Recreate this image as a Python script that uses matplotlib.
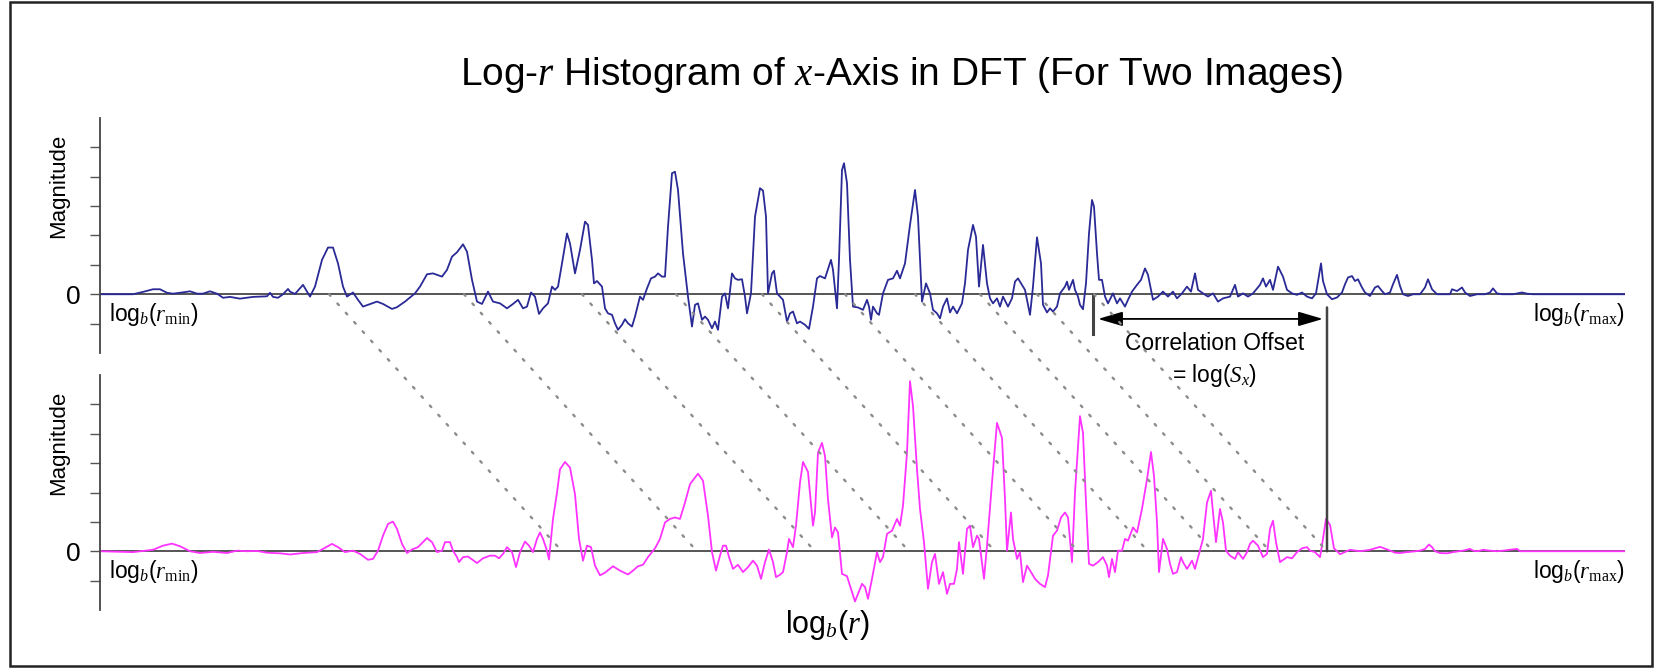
import matplotlib
matplotlib.use("Agg")
import matplotlib.pyplot as plt
from matplotlib.patches import ConnectionPatch, Rectangle

plt.rcParams['font.family'] = ['Liberation Sans', 'DejaVu Sans']
plt.rcParams['mathtext.fontset'] = 'custom'
plt.rcParams['mathtext.rm'] = 'Liberation Serif'
plt.rcParams['mathtext.it'] = 'Liberation Serif:italic'

# log_b(r) bins (0 = r_min, 1525 = r_max) and magnitudes
top_x = [0, 33, 43, 53, 60, 67, 73, 82, 90, 97, 103, 110, 117, 123, 130, 140, 153, 167, 170, 173, 178, 183, 188,
         190, 195, 203, 210, 215, 222, 228, 233, 238, 243, 247, 253, 258, 263, 277, 283, 292, 297, 305, 315, 320,
         327, 333, 342, 347, 352, 357, 363, 367, 372, 377, 382, 388, 393, 400, 407, 413, 418, 423, 427, 431, 435,
         439, 443, 448, 452, 455, 458, 462, 467, 470, 475, 480, 485, 488, 492, 494, 497, 502, 505, 508, 512, 515,
         518, 522, 525, 528, 532, 535, 540, 543, 547, 551, 555, 558, 562, 565, 568, 572, 575, 578, 583, 588, 592,
         595, 598, 602, 605, 608, 612, 615, 618, 622, 625, 628, 632, 635, 638, 642, 645, 647, 651, 655, 660, 663,
         666, 668, 672, 674, 677, 680, 683, 687, 690, 693, 697, 700,
         705, 709, 713, 717, 720, 725, 731, 733, 737, 739, 742, 744, 747, 750, 753, 758, 763, 767, 769, 771, 773,
         777, 779, 783, 788, 793, 797, 800, 805, 810, 815, 818, 822, 826, 830, 833, 837, 840, 843, 847, 850, 853,
         857, 862, 865, 868, 873, 876, 879, 883, 887, 890, 893, 897, 900, 903, 908, 912, 915, 918, 922, 925, 930,
         933, 937, 941, 943, 947, 950, 953, 957, 960, 965, 967, 969, 973, 975, 978, 980, 983, 986, 989, 992, 994,
         997, 999, 1002, 1005, 1008, 1013, 1017, 1020, 1025, 1028, 1032, 1037, 1041, 1045, 1048, 1053, 1058, 1063,
         1068, 1073, 1077, 1082, 1087, 1091, 1095, 1098, 1103, 1108, 1113, 1118, 1123, 1130, 1135, 1138, 1143,
         1148, 1153, 1160, 1163, 1166, 1170, 1173, 1178, 1183, 1187, 1192, 1197, 1202, 1207, 1212, 1216, 1221,
         1223, 1227, 1232, 1237, 1242, 1245, 1248, 1252, 1255, 1258, 1262, 1265, 1270, 1275, 1278, 1282, 1285,
         1290, 1293, 1297, 1300, 1303, 1308, 1313, 1320, 1325, 1328, 1332, 1337, 1343, 1350, 1352, 1357, 1362,
         1365, 1370, 1377, 1385, 1390, 1393, 1397, 1402, 1413, 1422, 1427, 1433, 1525]
top_y = [0.0, 0.0, 0.08, 0.17, 0.17, 0.05, 0.02, 0.06, 0.10, 0.02, 0.02, 0.10, 0.02, -0.12, -0.09, -0.15, -0.09,
         -0.07, 0.05, -0.09, -0.12, 0.0, 0.18,
         0.09, 0.01, 0.32, -0.08, 0.26, 1.17, 1.59, 1.59, 1.05, 0.26, -0.08, 0.06, -0.19, -0.42, -0.25, -0.33,
         -0.50, -0.44, -0.25, 0.03, 0.26, 0.68, 0.71, 0.60, 0.83, 1.28, 1.43, 1.70, 1.45, 0.49, -0.25, -0.33,
         0.09, -0.25, -0.31, -0.48, -0.33, -0.19, -0.48, -0.42, 0.06, -0.08, -0.67, -0.48, -0.31, 0.26, 0.15,
         0.26, 1.05, 2.07, 1.73, 0.71, 1.51, 2.47, 2.36, 1.17, 0.37, 0.45, 0.26, -0.48, -0.65, -0.70, -0.99,
         -1.21, -1.04, -0.85, -0.99, -1.10, -0.76, -0.08, -0.19, 0.20, 0.54, 0.60, 0.71, 0.60, 0.60, 2.30, 4.12,
         4.17, 3.55, 1.39, -0.08, -1.10, -0.36, -0.31, -0.87, -0.76, -0.87, -1.16, -0.93, -1.21, -0.08, 0.03,
         -0.48, 0.71, 0.54, 0.49, 0.51, -0.08, -0.65, 0.03, 2.64, 3.61, 3.53, 2.64, 0.03, 0.71, 0.80, 0.03,
         -0.08, -0.19, -0.93, -0.65, -0.59, -0.99, -0.93,
         -1.04, -1.18, -0.42, 0.54, 0.62, 0.54, 1.17, 0.83, -0.48, 1.17, 4.23, 4.46, 3.78, 1.17, -0.42, -0.45,
         -0.53, -0.19, -0.42, -0.87, -0.42, -0.65, -0.70, 0.03, 0.49, 0.54, 0.80, 0.54, 1.05, 2.36, 3.55, 2.64,
         -0.25, 0.37, 0.03, -0.53, -0.65, -0.82, -0.42, -0.14, -0.62, -0.42, -0.65, -0.31, 0.37, 1.51, 2.36,
         1.96, 0.26, 1.68, 0.37, -0.14, -0.31, -0.14, -0.42, -0.08, -0.42, -0.14, 0.43, 0.54, 0.32, 0.15, -0.70,
         0.26, 1.94, 1.05, -0.36, -0.62, -0.48, -0.59, -0.42, 0.03, 0.26, 0.43, 0.15, 0.49, 0.15, -0.08, -0.36,
         -0.51, 0.37, 2.07, 3.21, 2.98, 1.39, 0.49, 0.49, -0.08, -0.31, 0.03, -0.31, -0.14, -0.42, -0.19, 0.09,
         0.32, 0.49, 0.88, 0.66, -0.19, -0.08, 0.09, -0.08, 0.09, -0.14, 0.03, 0.26, 0.09, 0.71, 0.15, 0.03,
         -0.08, 0.03, -0.25, -0.14, -0.08, 0.32, -0.08, 0.03, -0.08, 0.03, 0.32, 0.54, 0.26, 0.49, 0.15, 0.94,
         0.60, 0.15, 0.03, -0.02, 0.06, -0.08, -0.14, 0.03, 1.05,
         0.45, 0.0, -0.17, -0.11, 0.06, 0.34, 0.57, 0.62, 0.45, 0.51, 0.23, 0.06, -0.06, 0.23, 0.28, 0.11, 0.0,
         0.06, 0.34, 0.66, 0.28, 0.0, -0.06, 0.0, 0.0, 0.23, 0.51, 0.17, 0.0, 0.0, 0.0, 0.17, 0.11, 0.23, 0.06,
         -0.06, 0.0, 0.0, 0.06, 0.20, 0.03, 0.0, 0.0, 0.06, 0.02, 0.0, 0.0]

bot_x = [0, 33, 53, 63, 72, 80, 90, 100, 113, 127, 137, 147, 157, 167, 180, 190, 203, 217, 223, 232, 238, 245,
         253, 260, 268, 273, 278, 283, 288, 293, 297, 302, 307, 312, 318, 327, 332, 337, 342, 345, 350, 353, 357,
         359, 363, 368, 377, 383, 390, 395, 399, 403, 407, 412, 416, 420, 425, 429, 433, 437, 440, 443, 447, 449,
         453, 457, 460, 465, 470, 475, 479, 483, 487, 491, 495, 500, 505, 513, 520, 528, 533, 538, 543, 548, 555,
         560, 565, 570, 575, 580, 585, 590, 595, 598, 603, 608, 612, 616, 620, 623, 626, 629, 633, 638, 643, 648,
         653, 657, 661, 665, 669, 673, 676, 680, 683, 687, 689, 693, 696, 700, 703, 708,
         713, 715, 718, 722, 725, 728, 732, 735, 738, 742, 747, 752, 755, 758, 762, 765, 768, 772, 777, 780, 783,
         787, 792, 797, 800, 803, 807, 810, 813, 817, 820, 824, 828, 832, 835, 839, 843, 847, 850, 854, 857, 859,
         863, 867, 870, 873, 877, 879, 884, 887, 892, 897, 902, 905, 907, 911, 913, 917, 920, 923, 927, 931, 935,
         940, 945, 948, 953, 957, 961, 965, 968, 972, 975, 980, 983, 986, 989, 993, 998, 1003, 1007, 1009, 1012,
         1015, 1018, 1022, 1025, 1028, 1033, 1037, 1042, 1047, 1051, 1054, 1057, 1059, 1063, 1067, 1070, 1073,
         1077, 1081, 1083, 1087, 1092, 1095, 1099, 1103, 1107, 1111, 1113, 1116, 1120, 1123, 1126, 1130, 1135,
         1138, 1143, 1147, 1150, 1153, 1158, 1163, 1167, 1170, 1173, 1176, 1180, 1187, 1192, 1197, 1202, 1207,
         1210, 1215, 1220, 1222, 1226, 1230, 1234, 1240, 1250, 1260, 1270, 1280, 1288, 1295,
         1300, 1307, 1313, 1320, 1325, 1329, 1332, 1335, 1340, 1347, 1353, 1363, 1370, 1373, 1378, 1383, 1390,
         1397, 1403, 1410, 1417, 1420, 1427, 1525]
bot_y = [0.0, -0.03, 0.05, 0.19, 0.26, 0.17, 0.0, -0.06, -0.02, -0.06, 0.02, 0.0, 0.01, -0.05, -0.07, -0.11,
         -0.06, -0.03, 0.08, 0.25, 0.14, -0.03, 0.02, -0.09, -0.29, -0.26, 0.02, 0.53, 0.93, 1.01, 0.76, 0.25,
         -0.06, 0.06, 0.14, 0.45, 0.31, -0.03, 0.02, 0.31, 0.31, 0.02, -0.20, -0.37, -0.20, -0.18, -0.40, -0.24,
         -0.15, -0.15, -0.24, -0.09, 0.14, -0.03, -0.54, -0.03, 0.33, 0.19, -0.03, 0.42, 0.64, 0.42, 0.02, -0.28,
         1.10, 2.00, 2.79, 3.04, 2.85, 1.94, 0.42, -0.32, 0.19, 0.14, -0.49, -0.82, -0.73, -0.51, -0.66, -0.79,
         -0.66, -0.51, -0.46, -0.20, 0.10, 0.42, 0.98, 1.10, 1.15, 1.10, 1.66, 2.28, 2.51, 2.64, 2.40, 1.21,
         -0.03, -0.66, -0.15, 0.19, 0.19, -0.20, -0.60, -0.46, -0.71, -0.54, -0.32, -0.49, -0.94, -0.37, 0.06,
         -0.37, -0.88, -0.80, -0.71, -0.03, 0.42, 0.14, 0.87, 2.34, 3.04, 2.70,
         0.87, 1.32, 3.36, 3.69, 3.24, 1.77, 0.47, 0.81, 0.64, -0.77, -0.85, -1.39, -1.71, -1.45, -1.11, -1.22,
         -1.62, -0.94, -0.03, -0.37, -0.20, 0.59, 0.70, 1.10, 0.87, 1.55, 3.36, 5.79, 4.94, 2.79, 1.44, 0.31,
         -1.28, -0.37, -0.09, -1.11, -0.71, -1.45, -1.11, -1.11, -0.60, 0.31, -0.77, 0.76, 0.87, 0.14, 0.53, 0.42,
         -0.94, 0.19, 2.34, 4.37, 3.86, 1.77, 0.02, 1.32, 0.42, -0.26, -0.03, -1.05, -0.49, -0.71, -0.94, -1.11,
         -1.22, -0.82, 0.53, 0.70, 1.15, 1.32, 1.15, -0.37, 2.00, 4.60, 4.03, 1.66, -0.43, -0.49, -0.37, -0.20,
         -0.49, -0.88, -0.26, -0.71, 0.02, 0.02, 0.42, 0.36, 0.81, 0.64, 1.44, 2.45, 3.38, 2.56, 0.98, -0.71,
         0.42, 0.08, -0.43, -0.77, -0.71, -0.20, -0.37, -0.60, -0.32, -0.60, -0.09, 0.42, 1.66, 2.06, 1.32, 0.31,
         1.44, 0.98, 0.02, -0.15, -0.26, -0.03, -0.26, -0.03, 0.25, 0.36, 0.19, -0.20, -0.09, 0.76, 1.04, 0.31,
         -0.37, -0.20, -0.24, -0.03, 0.10, 0.14, 0.02, -0.03, -0.20, 0.20, 1.10, 0.90, 0.10, -0.10, 0.05, 0.0,
         0.05, 0.15, 0.05, -0.05,
         -0.06, -0.03, -0.01, 0.02, 0.08, 0.23, 0.14, 0.0, -0.06, -0.07, -0.03, 0.02, 0.08, 0.02, 0.0, 0.05, 0.02,
         0.0, 0.02, 0.05, 0.08, 0.0, 0.0, 0.0]

# feet of matching peaks in the first image, and the shift to the second one
peak_feet = [229, 364, 482, 576, 662, 745, 815, 880, 937, 994]
offset = 233
x_min, x_max = 0, 1525
y_ticks = [-1, 0, 1, 2, 3, 4, 5]

fig = plt.figure(figsize=(16.55, 6.68), dpi=100)
ax_top = fig.add_axes([100 / 1655, 315 / 668, 1525 / 1655, 235 / 668])
ax_bot = fig.add_axes([100 / 1655, 58 / 668, 1525 / 1655, 235 / 668])

panels = [(ax_top, top_x, top_y, '#2a2a96'), (ax_bot, bot_x, bot_y, '#ff33ff')]
for ax, xs, ys, col in panels:
    ax.set_xlim(x_min, x_max)
    ax.set_ylim(-2, 6)
    ax.patch.set_alpha(0)
    for s in ['top', 'right', 'bottom']:
        ax.spines[s].set_visible(False)
    ax.spines['left'].set_color('#444444')
    ax.spines['left'].set_linewidth(1.3)
    ax.set_xticks([])
    ax.set_yticks(y_ticks)
    ax.set_yticklabels(['0' if t == 0 else '' for t in y_ticks], fontsize=19)
    ax.tick_params(axis='y', direction='out', length=7, width=1.0, color='#555555', pad=7)
    ax.axhline(0, color='#555555', lw=1.4, zorder=1)
    ax.plot(xs, ys, color=col, lw=1.3, zorder=2)
    ax.text(-41 / 1525, 0.71, 'Magnitude', rotation=90, ha='center', va='center',
            fontsize=16, transform=ax.transAxes)
    ax.text(9 / 1525, 0.165, r'log$_b$($r_\mathrm{min}$)', ha='left', va='center',
            fontsize=16.5, transform=ax.transAxes)
    ax.text(1.0, 0.165, r'log$_b$($r_\mathrm{max}$)', ha='right', va='center',
            fontsize=16.5, transform=ax.transAxes)

# dotted lines linking matching peaks of the two images
for x0 in peak_feet:
    con = ConnectionPatch(xyA=(x0, 0), coordsA=ax_top.transData,
                          xyB=(x0 + offset, 0), coordsB=ax_bot.transData,
                          color='#8c8c8c', lw=1.7, linestyle=(0, (0.9, 4.4)), zorder=3)
    fig.add_artist(con)

# correlation offset marker
left_mark = peak_feet[-1] - 1
right_mark = left_mark + offset + 1
ax_top.plot([left_mark, left_mark], [0, -1.35], color='#444444', lw=2.2, clip_on=False)
link = ConnectionPatch(xyA=(right_mark, -0.45), coordsA=ax_top.transData,
                       xyB=(right_mark, 0), coordsB=ax_bot.transData,
                       color='#444444', lw=1.8, zorder=4)
fig.add_artist(link)
ax_top.annotate('', xy=(right_mark - 4, -0.84), xytext=(left_mark + 5, -0.84),
                xycoords='data', annotation_clip=False,
                arrowprops=dict(arrowstyle='<|-|>,head_length=0.75,head_width=0.22',
                                mutation_scale=20, color='black', lw=1.3,
                                shrinkA=0, shrinkB=0))
ax_top.text((left_mark + right_mark) / 2 + 5, -1.67, 'Correlation Offset', ha='center', va='center',
            fontsize=16.5, clip_on=False)
ax_top.text((left_mark + right_mark) / 2 + 5, -2.78, r'= log($S_x$)', ha='center', va='center',
            fontsize=16.5, clip_on=False)

ax_bot.text(727 / 1525, -0.064, r'log$_b$($r$)', ha='center', va='center',
            fontsize=22, transform=ax_bot.transAxes)

fig.text(902 / 1655, 1 - 75 / 668, r'Log-$r$ Histogram of $x$-Axis in DFT (For Two Images)',
         ha='center', va='center', fontsize=28)

fig.add_artist(Rectangle((10 / 1655, 2 / 668), 1642 / 1655, 664 / 668, transform=fig.transFigure,
                         fill=False, edgecolor='#222222', lw=1.8))

fig.savefig('out.png', dpi=100)
